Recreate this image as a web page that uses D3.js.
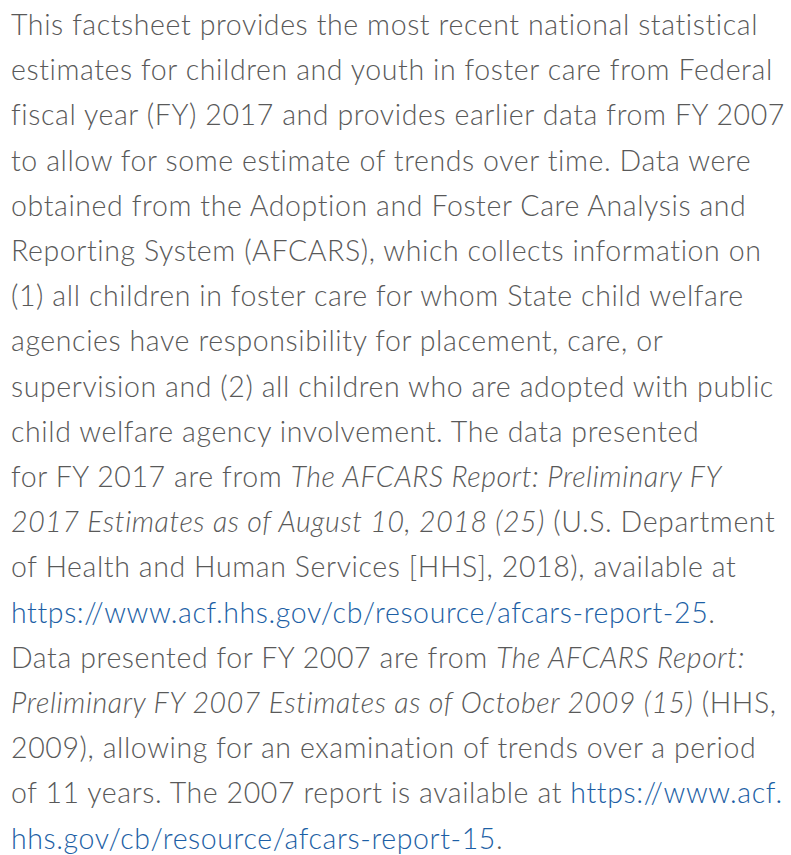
<!DOCTYPE html>
<html>
<head>
<meta charset="utf-8">
<script src="https://cdn.jsdelivr.net/npm/d3@7"></script>
<style>
  html, body { margin: 0; padding: 0; background: #ffffff; }
  svg { display: block; }
</style>
</head>
<body>
<svg id="chart" width="791" height="855"></svg>
<script>
// Text lines, each a list of [style, text] segments: n = normal, i = italic, a = link
const lines = [
  [["n", "This factsheet provides the most recent national statistical"]],
  [["n", "estimates for children and youth in foster care from Federal"]],
  [["n", "fiscal year (FY) 2017 and provides earlier data from FY 2007"]],
  [["n", "to allow for some estimate of trends over time. Data were"]],
  [["n", "obtained from the Adoption and Foster Care Analysis and"]],
  [["n", "Reporting System (AFCARS), which collects information on"]],
  [["n", "(1) all children in foster care for whom State child welfare"]],
  [["n", "agencies have responsibility for placement, care, or"]],
  [["n", "supervision and (2) all children who are adopted with public"]],
  [["n", "child welfare agency involvement. The data presented"]],
  [["n", "for FY 2017 are from "], ["i", "The AFCARS Report: Preliminary FY"]],
  [["i", "2017 Estimates as of August 10, 2018 (25)"], ["n", " (U.S. Department"]],
  [["n", "of Health and Human Services [HHS], 2018), available at"]],
  [["a", "https://www.acf.hhs.gov/cb/resource/afcars-report-25"], ["n", "."]],
  [["n", "Data presented for FY 2007 are from "], ["i", "The AFCARS Report:"]],
  [["i", "Preliminary FY 2007 Estimates as of October 2009 (15)"], ["n", " (HHS,"]],
  [["n", "2009), allowing for an examination of trends over a period"]],
  [["n", "of 11 years. The 2007 report is available at "], ["a", "https://www.acf."]],
  [["a", "hhs.gov/cb/resource/afcars-report-15"], ["n", "."]]
];

const W = 791, H = 855;
const svg = d3.select("#chart");
svg.append("rect").attr("width", W).attr("height", H).attr("fill", "#ffffff");

const y = d3.scaleLinear().domain([0, lines.length - 1]).range([35, 848.5]);

const textColor = "#595959";
const linkColor = "#1d5fa5";

const t = svg.append("g")
  .attr("font-family", "Lato, 'Noto Sans', sans-serif")
  .attr("font-weight", 300)
  .attr("font-size", 28.5)
  .attr("letter-spacing", 0.6)
  .attr("fill", textColor);

lines.forEach((segs, i) => {
  const txt = t.append("text").attr("x", 11).attr("y", y(i));
  segs.forEach(([s, str]) => {
    const ts = txt.append("tspan").text(str);
    if (s === "i") ts.attr("font-style", "italic");
    if (s === "a") ts.attr("fill", linkColor);
  });
});
</script>
</body>
</html>
